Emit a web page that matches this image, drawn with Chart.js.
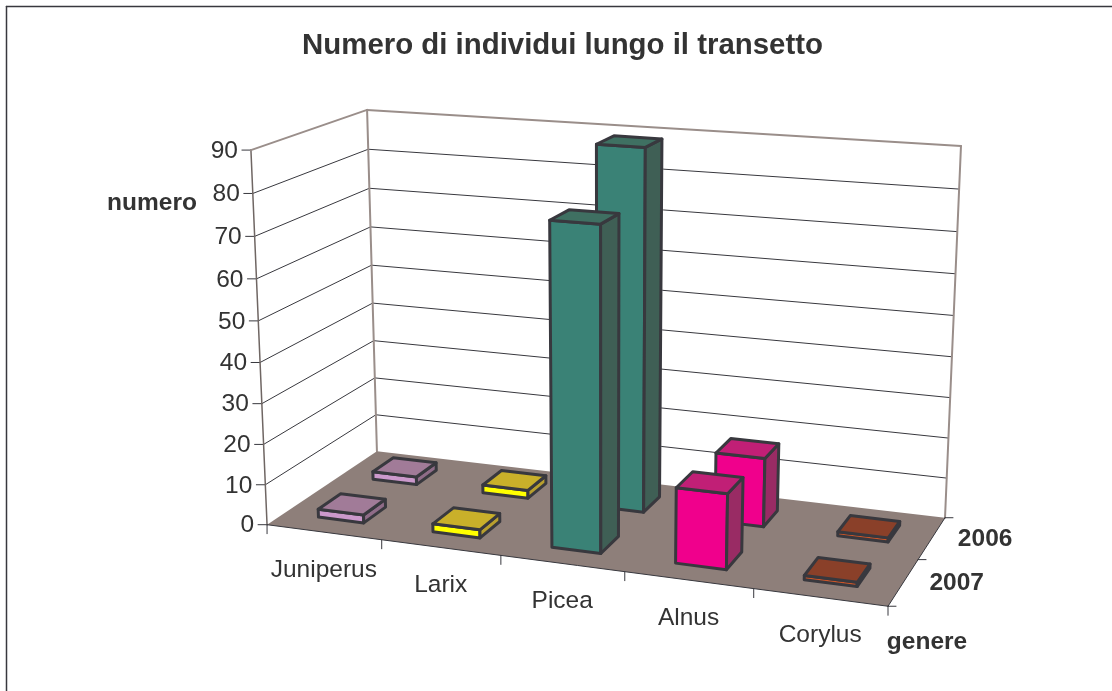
<!DOCTYPE html>
<html>
<head>
<meta charset="utf-8">
<title>Numero di individui lungo il transetto</title>
<script src="https://cdn.jsdelivr.net/npm/chart.js@4"></script>
<style>
    html, body { margin: 0; padding: 0; background: #fff; }
    canvas { display: block; }
</style>
</head>
<body>
<canvas id="chart" width="1112" height="691"></canvas>
<script>
const categories = ['Juniperus', 'Larix', 'Picea', 'Alnus', 'Corylus'];
const seriesLabels = ['2007', '2006'];
const values2007 = [2, 2, 77, 18, 1];
const values2006 = [2, 2, 89, 17, 1];

const frontColors = ['#cc99cc', '#ffff00', '#3a8276', '#f0008c', '#c8552a'];
const topColors = ['#a17b98', '#c9b02a', '#3f7062', '#c11f76', '#8a4029'];
const sideColors = ['#8f6c88', '#b89f2e', '#3f5f55', '#992b64', '#7a3a28'];

const INK = '#38383e';
const TEXT = '#333333';
const WALL = '#9a8e8a';
const FLOOR = '#8e7f7a';
const FONT = '"Liberation Sans", Arial, sans-serif';

// where the corners of the plot box land on the page: [u, v, w, px, py]
const calibration = [
    [0, 0, 0, 267, 525],
    [0, 0, 1, 251, 150],
    [0, 1, 0, 377, 451],
    [0, 1, 1, 367, 110],
    [1, 1, 0, 945, 518],
    [1, 1, 1, 961, 146],
    [1, 0, 0, 888, 606]
];

// least squares fit of the 3x4 camera matrix (last entry fixed to 1)
function solveCamera(points) {
    const n = 11;
    const A = Array.from({ length: n }, () => new Array(n + 1).fill(0));
    function addRow(row, rhs) {
        for (let i = 0; i < n; i++) {
            for (let j = 0; j < n; j++) A[i][j] += row[i] * row[j];
            A[i][n] += row[i] * rhs;
        }
    }
    points.forEach(([u, v, w, px, py]) => {
        addRow([u, v, w, 1, 0, 0, 0, 0, -px * u, -px * v, -px * w], px);
        addRow([0, 0, 0, 0, u, v, w, 1, -py * u, -py * v, -py * w], py);
    });
    for (let c = 0; c < n; c++) {
        let best = c;
        for (let r = c + 1; r < n; r++) {
            if (Math.abs(A[r][c]) > Math.abs(A[best][c])) best = r;
        }
        [A[c], A[best]] = [A[best], A[c]];
        for (let r = 0; r < n; r++) {
            if (r === c) continue;
            const f = A[r][c] / A[c][c];
            for (let k = c; k <= n; k++) A[r][k] -= f * A[c][k];
        }
    }
    return A.map((row, i) => row[n] / row[i]);
}

const cam = solveCamera(calibration);

function project(u, v, w) {
    const d = cam[8] * u + cam[9] * v + cam[10] * w + 1;
    return [
        (cam[0] * u + cam[1] * v + cam[2] * w + cam[3]) / d,
        (cam[4] * u + cam[5] * v + cam[6] * w + cam[7]) / d
    ];
}

function poly(ctx, pts, fill, stroke, width) {
    ctx.beginPath();
    pts.forEach((p, i) => (i ? ctx.lineTo(p[0], p[1]) : ctx.moveTo(p[0], p[1])));
    ctx.closePath();
    if (fill) {
        ctx.fillStyle = fill;
        ctx.fill();
    }
    if (stroke) {
        ctx.strokeStyle = stroke;
        ctx.lineWidth = width;
        ctx.lineJoin = 'round';
        ctx.stroke();
    }
}

function line(ctx, a, b, color, width) {
    ctx.beginPath();
    ctx.moveTo(a[0], a[1]);
    ctx.lineTo(b[0], b[1]);
    ctx.strokeStyle = color;
    ctx.lineWidth = width;
    ctx.stroke();
}

function label(ctx, text, x, y, font, align) {
    ctx.font = font;
    ctx.fillStyle = TEXT;
    ctx.textAlign = align;
    ctx.textBaseline = 'middle';
    ctx.fillText(text, x, y);
}

// takes the flat bars Chart.js laid out and draws them in the 3D box
const box3d = {
    id: 'box3d',
    beforeDatasetsDraw(chart) {
        const ctx = chart.ctx;
        const xs = chart.scales.x;
        const ys = chart.scales.y;
        const zs = chart.scales.z;
        const toU = px => (px - xs.left) / xs.width;
        const toW = px => (ys.bottom - px) / ys.height;
        const toV = px => (px - zs.left) / zs.width;
        const depth = zs.width / seriesLabels.length * 0.4;

        ctx.save();
        ctx.lineCap = 'round';

        // outer frame
        line(ctx, [6.5, 691], [6.5, 6.5], INK, 1.5);
        line(ctx, [6.5, 6.5], [1112, 6.5], INK, 1.5);

        // gridlines on the two walls
        ys.ticks.forEach(t => {
            const w = toW(ys.getPixelForValue(t.value));
            const front = project(0, 0, w);
            if (t.value > 0 && t.value < ys.max) {
                line(ctx, front, project(0, 1, w), INK, 1);
                line(ctx, project(0, 1, w), project(1, 1, w), INK, 1);
            }
            line(ctx, [front[0] - 9, front[1]], front, INK, 1);
            label(ctx, t.label, front[0] - 13, front[1] + 1, '24.5px ' + FONT, 'right');
        });

        // wall edges
        line(ctx, project(0, 0, 1), project(0, 0, 0), '#6f6663', 1.5);
        line(ctx, project(0, 0, 1), project(0, 1, 1), WALL, 2);
        line(ctx, project(0, 1, 1), project(0, 1, 0), WALL, 2);
        line(ctx, project(0, 1, 1), project(1, 1, 1), WALL, 2);
        line(ctx, project(1, 1, 1), project(1, 1, 0), WALL, 2);

        // floor
        poly(ctx, [project(0, 0, 0), project(1, 0, 0), project(1, 1, 0), project(0, 1, 0)], FLOOR);
        line(ctx, project(0, 0, 0), project(1, 0, 0), INK, 1);
        line(ctx, project(1, 0, 0), project(1, 1, 0), INK, 1);

        // category ticks along the front edge
        for (let i = 0; i <= categories.length; i++) {
            const p = project(i / categories.length, 0, 0);
            line(ctx, p, [p[0], p[1] + 9], INK, 1);
        }
        categories.forEach((name, i) => {
            const p = project(toU(xs.getPixelForValue(i)), 0, 0);
            label(ctx, name, p[0], p[1] + 38, '24.5px ' + FONT, 'center');
        });

        // series ticks along the right edge
        for (let i = 0; i <= seriesLabels.length; i++) {
            const p = project(1, i / seriesLabels.length, 0);
            line(ctx, p, [p[0] + 8, p[1]], INK, 1);
        }
        seriesLabels.forEach((name, i) => {
            const p = project(1, toV(zs.getPixelForValue(i)), 0);
            label(ctx, name, p[0] + 26, p[1] + 1, 'bold 24.5px ' + FONT, 'left');
        });

        // axis titles
        label(ctx, 'numero', 152, 203, 'bold 24.5px ' + FONT, 'center');
        label(ctx, 'genere', 927, 642, 'bold 24.5px ' + FONT, 'center');

        // bars, back row first
        for (let d = chart.data.datasets.length - 1; d >= 0; d--) {
            const meta = chart.getDatasetMeta(d);
            const vc = toV(zs.getPixelForValue(d));
            const v0 = vc - depth / zs.width / 2;
            const v1 = vc + depth / zs.width / 2;
            meta.data.forEach((bar, i) => {
                const u0 = toU(bar.x - bar.width / 2);
                const u1 = toU(bar.x + bar.width / 2);
                const w0 = toW(bar.base);
                const w1 = toW(bar.y);
                poly(ctx, [project(u0, v0, w0), project(u1, v0, w0), project(u1, v0, w1), project(u0, v0, w1)],
                    frontColors[i], INK, 3);
                poly(ctx, [project(u1, v0, w0), project(u1, v1, w0), project(u1, v1, w1), project(u1, v0, w1)],
                    sideColors[i], INK, 3);
                poly(ctx, [project(u0, v0, w1), project(u1, v0, w1), project(u1, v1, w1), project(u0, v1, w1)],
                    topColors[i], INK, 3);
            });
        }

        ctx.restore();
        return false;
    }
};

new Chart(document.getElementById('chart'), {
    type: 'bar',
    data: {
        labels: categories,
        datasets: [
            { label: seriesLabels[0], data: values2007, backgroundColor: frontColors },
            { label: seriesLabels[1], data: values2006, backgroundColor: frontColors }
        ]
    },
    options: {
        responsive: false,
        animation: false,
        layout: { padding: { left: 13 } },
        datasets: { bar: { grouped: false, categoryPercentage: 0.4, barPercentage: 1 } },
        scales: {
            x: { type: 'category', display: false },
            y: { type: 'linear', display: false, min: 0, max: 90, ticks: { stepSize: 10 } },
            z: { type: 'category', axis: 'x', display: false, labels: seriesLabels, offset: true }
        },
        plugins: {
            legend: { display: false },
            tooltip: { enabled: false },
            title: {
                display: true,
                text: 'Numero di individui lungo il transetto',
                color: TEXT,
                font: { family: FONT, size: 29.4, weight: 'bold' },
                padding: { top: 28, bottom: 10 }
            }
        }
    },
    plugins: [box3d]
});
</script>
</body>
</html>
